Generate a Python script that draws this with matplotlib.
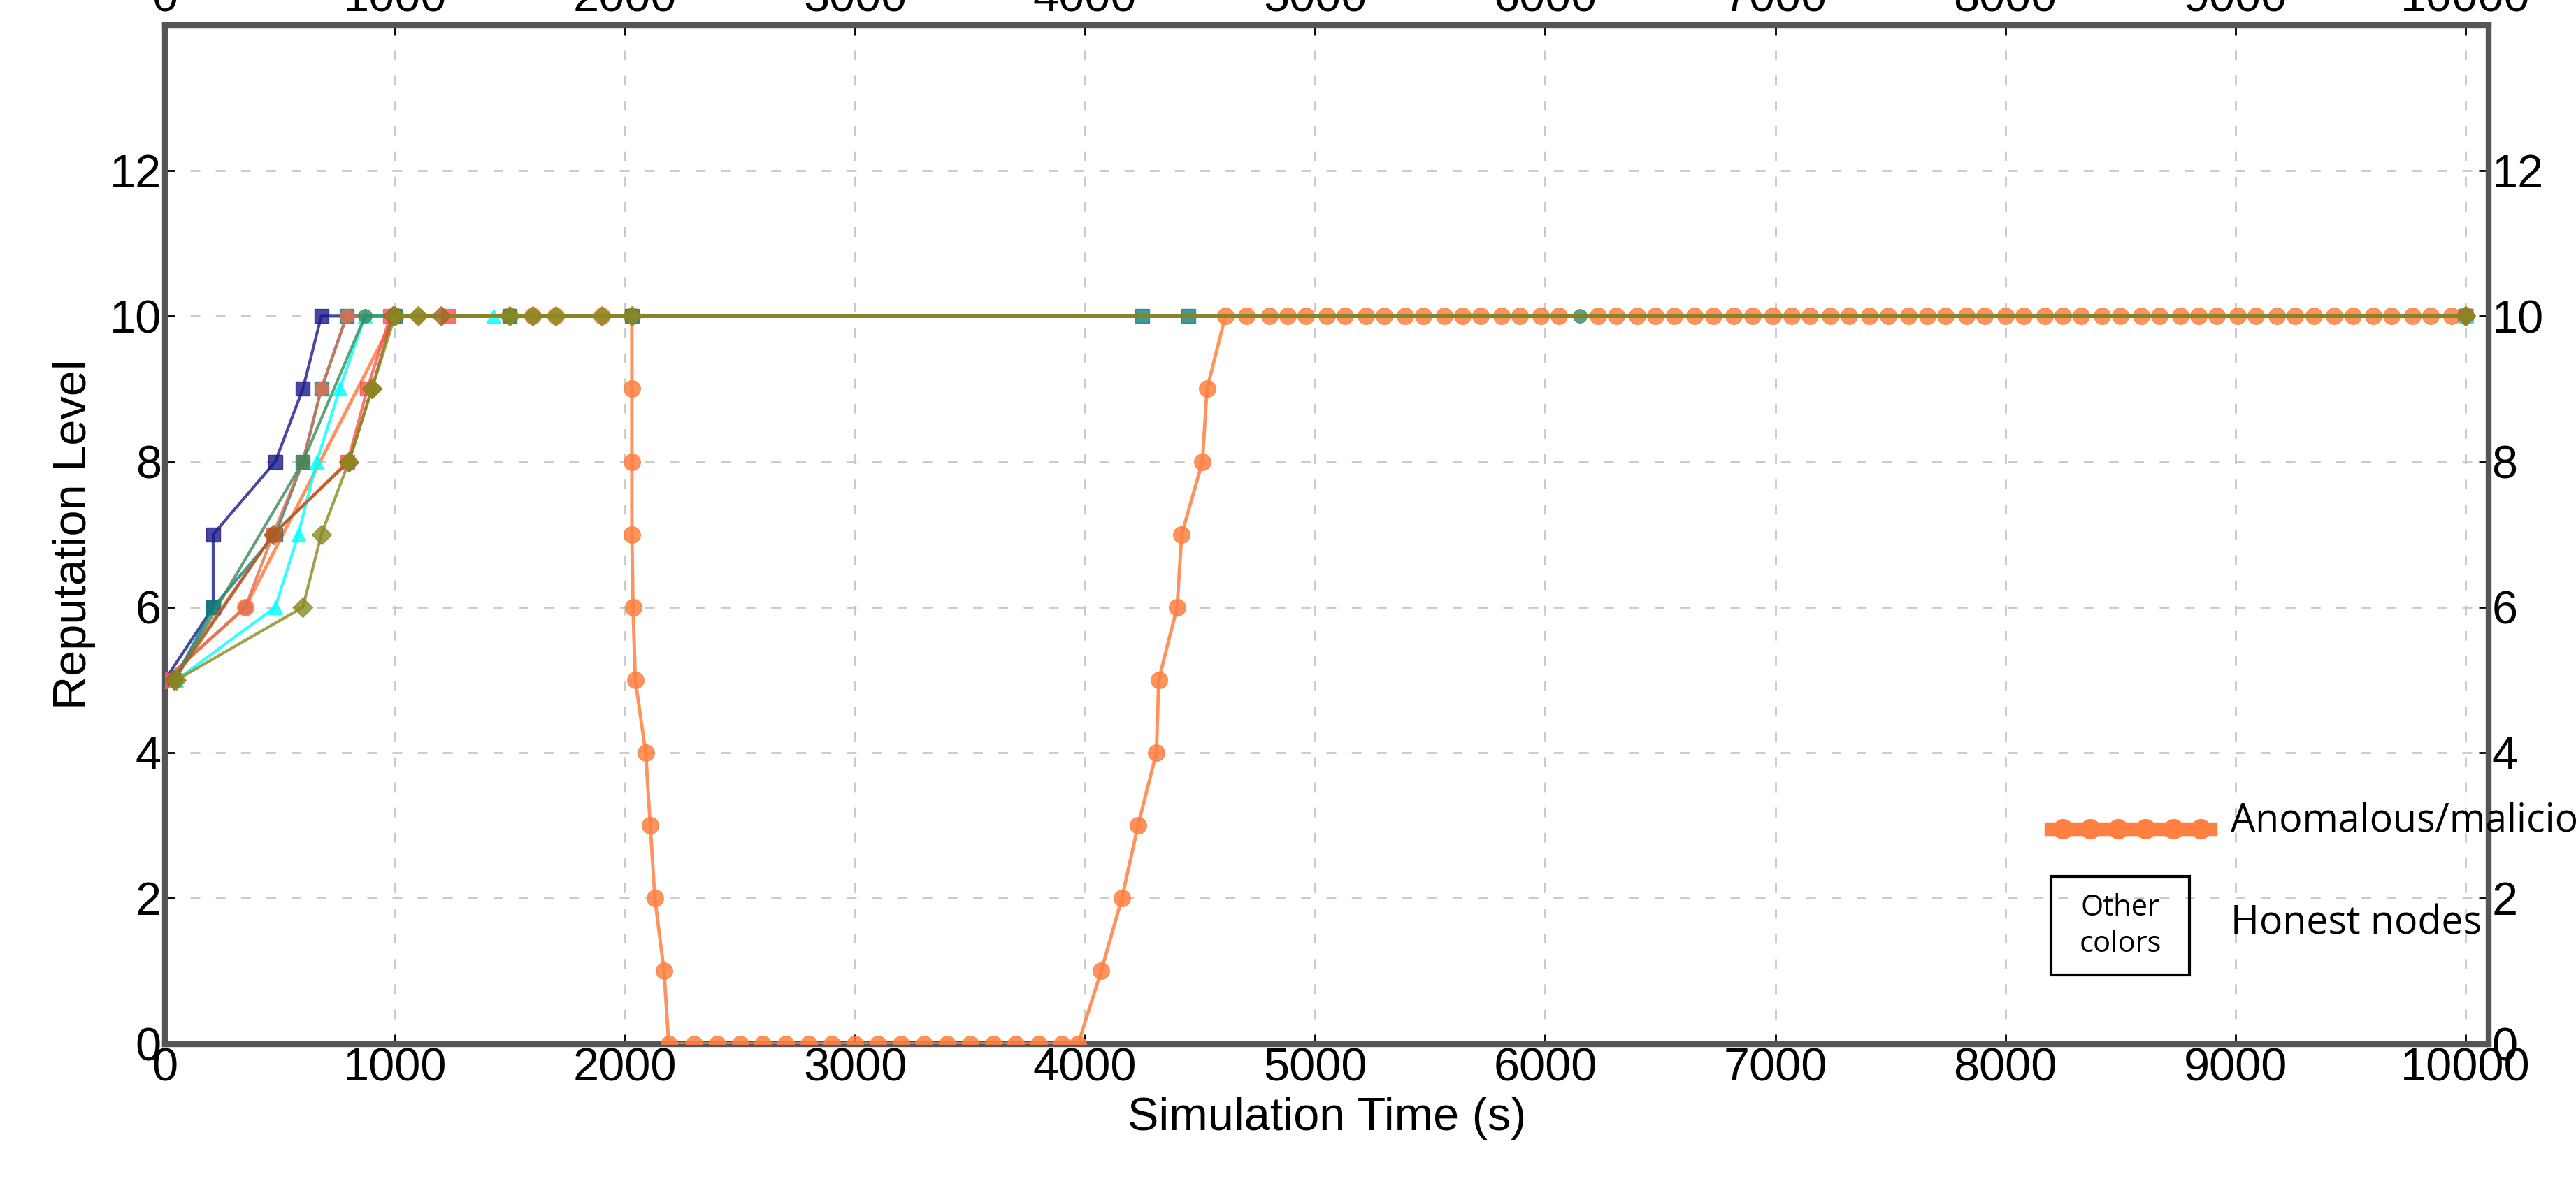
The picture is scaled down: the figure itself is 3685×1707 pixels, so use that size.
import matplotlib.pyplot as plt
from matplotlib.patches import Rectangle

plt.rcParams['font.family'] = ['Liberation Sans', 'DejaVu Sans']

# honest nodes: (times, reputation)
blue_t = [0, 210, 210, 480, 600, 680, 10000]
blue_r = [5, 6, 7, 8, 9, 10, 10]
teal_t = [40, 210, 480, 600, 680, 790, 1000, 1500, 2030, 4250, 4450, 10000]
teal_r = [5, 6, 7, 8, 9, 10, 10, 10, 10, 10, 10, 10]
salmon_t = [0, 350, 470, 600, 680, 790, 1100, 1600, 10000]
salmon_r = [5, 6, 7, 8, 9, 10, 10, 10, 10]
red_t = [30, 470, 795, 880, 980, 1230, 10000]
red_r = [5, 7, 8, 9, 10, 10, 10]
cyan_t = [50, 480, 580, 660, 760, 870, 1430, 10000]
cyan_r = [5, 6, 7, 8, 9, 10, 10, 10]
green_t = [40, 600, 870, 1000, 6150, 10000]
green_r = [5, 8, 10, 10, 10, 10]
brown_t = [40, 470, 800, 900, 990, 1200, 10000]
brown_r = [5, 7, 8, 9, 10, 10, 10]
olive_t = [50, 600, 680, 800, 900, 1000, 1100, 1500, 1600, 1700, 1900, 2030, 10000]
olive_r = [5, 6, 7, 8, 9, 10, 10, 10, 10, 10, 10, 10, 10]

# anomalous / malicious node
mal_t = [0, 350, 1000, 1500, 1600, 1700, 1900, 2030, 2030, 2030, 2030, 2035, 2045,
         2090, 2110, 2130, 2170, 2190, 2300, 2400, 2500, 2600, 2700, 2800, 2900,
         3000, 3100, 3200, 3300, 3400, 3500, 3600, 3700, 3800, 3900, 3970,
         4070, 4160, 4230, 4310, 4320, 4400, 4420, 4510, 4530, 4610,
         4700, 4800, 4880, 4960, 5050, 5130, 5220, 5300, 5390, 5470, 5560, 5640,
         5720, 5810, 5890, 5980, 6060, 6230, 6310, 6400, 6480, 6560, 6650, 6730,
         6820, 6900, 6990, 7070, 7150, 7240, 7320, 7410, 7490, 7580, 7660, 7740,
         7830, 7910, 8000, 8080, 8170, 8250, 8330, 8420, 8500, 8590, 8670, 8760,
         8840, 8920, 9010, 9090, 9180, 9260, 9340, 9430, 9510, 9600, 9680, 9770,
         9850, 9940, 10000]
mal_r = [5, 6, 10, 10, 10, 10, 10, 10, 9, 8, 7, 6, 5,
         4, 3, 2, 1, 0, 0, 0, 0, 0, 0, 0, 0,
         0, 0, 0, 0, 0, 0, 0, 0, 0, 0, 0,
         1, 2, 3, 4, 5, 6, 7, 8, 9, 10] + [10] * 63

fig = plt.figure(figsize=(36.85, 17.07), dpi=100)
ax = fig.add_axes([0.064, 0.125, 0.902, 0.854])

mal_color = '#ff8040'
ax.plot(mal_t, mal_r, '-o', color=mal_color, alpha=0.85, lw=3.5, ms=17, zorder=3)

honest = [
    (blue_t, blue_r, '#1a1a8c', 's'),
    (teal_t, teal_r, '#138080', 's'),
    (salmon_t, salmon_r, '#e07050', 'o'),
    (red_t, red_r, '#ff5050', 's'),
    (cyan_t, cyan_r, '#00ffff', '^'),
    (green_t, green_r, '#3a8a5a', 'o'),
    (brown_t, brown_r, '#a06020', 'D'),
    (olive_t, olive_r, '#8a8a20', 'D'),
]
for t, r, c, m in honest:
    ax.plot(t, r, '-', marker=m, color=c, lw=3, ms=14, alpha=0.8, zorder=4)

ax.set_xlim(0, 10100)
ax.set_ylim(0, 14)
ax.set_xticks(range(0, 10001, 1000))
ax.set_yticks(range(0, 13, 2))
ax.grid(True, ls=(0, (5, 8)), color='#c8c8c8', lw=2)
ax.tick_params(labelsize=48, direction='in', length=10, width=2,
               top=True, right=True, labeltop=True, labelright=True)
for s in ax.spines.values():
    s.set_linewidth(6)
    s.set_color('#555555')
ax.set_xlabel('Simulation Time (s)', fontsize=48, labelpad=6)
ax.set_ylabel('Reputation Level', fontsize=48, labelpad=14)

# legend-like annotations
ax.plot([8200, 8200 + 690], [2.95, 2.95], '-', color=mal_color, lw=14, zorder=5)
ax.plot([8250, 8370, 8490, 8610, 8730, 8850], [2.95] * 6, 'o', color=mal_color, ms=20, zorder=5)
ax.text(8980, 3.05, 'Anomalous/malicious node', fontsize=40, family=['Open Sans', 'DejaVu Sans'],
        va='center', ha='left')
ax.add_patch(Rectangle((8200, 0.95), 600, 1.35, fill=False, lw=3, ec='black', zorder=5))
ax.text(8500, 1.62, 'Other\ncolors', fontsize=30, family=['Open Sans', 'DejaVu Sans'],
        ha='center', va='center', linespacing=1.3)
ax.text(8980, 1.65, 'Honest nodes', fontsize=40, family=['Open Sans', 'DejaVu Sans'],
        va='center', ha='left')

fig.savefig('out.png', dpi=100)
